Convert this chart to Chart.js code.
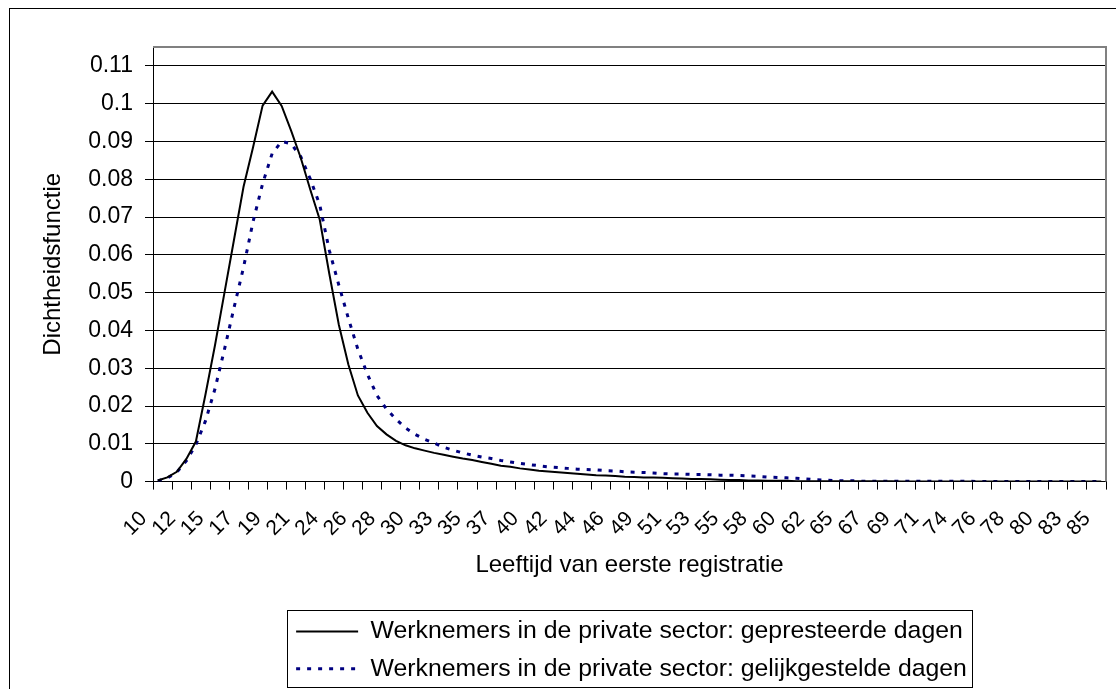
<!DOCTYPE html>
<html>
<head>
<meta charset="utf-8">
<title>Dichtheidsfunctie leeftijd eerste registratie</title>
<script src="https://cdn.jsdelivr.net/npm/chart.js@4.4.1/dist/chart.umd.min.js"></script>
<style>
  html, body { margin: 0; padding: 0; background: #fff; }
  canvas { display: block; }
</style>
</head>
<body>
<canvas id="densityChart" width="1116" height="689"></canvas>
<script>
// 100 leeftijdsklassen (10 tot 85), label bij elke derde klasse
const tickLabels = ['10','12','15','17','19','21','24','26','28','30','33','35','37','40','42','44','46','49',
    '51','53','55','58','60','62','65','67','69','71','74','76','78','80','83','85'];

const seriesNames = [
    'Werknemers in de private sector: gepresteerde dagen',
    'Werknemers in de private sector: gelijkgestelde dagen'
];

const gepresteerd = [
    0.0003, 0.0011, 0.0026, 0.0060, 0.0106, 0.0230, 0.0360, 0.0500, 0.0640, 0.0780,
    0.0885, 0.0995, 0.1032, 0.0994, 0.0928, 0.0857, 0.0773, 0.0693, 0.0550, 0.0415,
    0.0310, 0.0228, 0.0182, 0.0147, 0.0125, 0.0108, 0.0096, 0.0088, 0.0082, 0.0076,
    0.0071, 0.0066, 0.0061, 0.0057, 0.0052, 0.0047, 0.0042, 0.0039, 0.0035, 0.0032,
    0.0029, 0.0027, 0.0025, 0.0023, 0.0021, 0.0019, 0.0017, 0.0016, 0.0015, 0.0013,
    0.0012, 0.0011, 0.0011, 0.0010, 0.0009, 0.0008, 0.0007, 0.0007, 0.0006, 0.0005,
    0.0004, 0.0004, 0.0003, 0.0003, 0.0002, 0.0002, 0.0002, 0.0001, 0.0001, 0.0001,
    0.0001, 0.0001, 0.0001, 0.0001, 0.0001, 0.0001, 0.0001, 0.0001, 0, 0,
    0, 0, 0, 0, 0, 0, 0, 0, 0, 0,
    0, 0, 0, 0, 0, 0, 0, 0, 0, 0
];

const gelijkgesteld = [
    0.0002, 0.0009, 0.0025, 0.0055, 0.0098, 0.0160, 0.0245, 0.0350, 0.0460, 0.0567,
    0.0688, 0.0788, 0.0868, 0.0900, 0.0894, 0.0860, 0.0801, 0.0732, 0.0612, 0.0520,
    0.0432, 0.0350, 0.0284, 0.0228, 0.0192, 0.0165, 0.0142, 0.0125, 0.0112, 0.0102,
    0.0091, 0.0083, 0.0076, 0.0070, 0.0065, 0.0061, 0.0056, 0.0052, 0.0048, 0.0045,
    0.0042, 0.0039, 0.0037, 0.0035, 0.0033, 0.0032, 0.0031, 0.0029, 0.0028, 0.0026,
    0.0025, 0.0024, 0.0023, 0.0021, 0.0020, 0.0020, 0.0019, 0.0019, 0.0018, 0.0017,
    0.0017, 0.0016, 0.0015, 0.0014, 0.0012, 0.0011, 0.0010, 0.0009, 0.0007, 0.0005,
    0.0004, 0.0003, 0.0002, 0.0002, 0.0001, 0.0001, 0.0001, 0.0001, 0.0001, 0.0001,
    0.0001, 0.0001, 0.0001, 0.0001, 0.0001, 0.0001, 0, 0, 0, 0,
    0, 0, 0, 0, 0, 0, 0, 0, 0, 0
];

const yMin = 0, yMax = 0.115, yStep = 0.01;

// category list: only every third class carries a label
const categories = gepresteerd.map((v, i) => (i % 3 === 0 ? tickLabels[i / 3] : ''));

Chart.defaults.font.family = '"Liberation Sans", Arial, sans-serif';
Chart.defaults.color = '#000';

// white page + outer frame
const frame = {
    id: 'frame',
    beforeDraw(chart) {
        const ctx = chart.ctx;
        ctx.save();
        ctx.fillStyle = '#fff';
        ctx.fillRect(0, 0, chart.width, chart.height);
        ctx.strokeStyle = '#000';
        ctx.lineWidth = 1;
        ctx.strokeRect(9.5, 8.5, 1200, 800);
        ctx.restore();
    },
    beforeDatasetsDraw(chart) {
        // grey top and right edge of the plot area
        const {ctx, chartArea: a} = chart;
        ctx.save();
        ctx.strokeStyle = '#808080';
        ctx.lineWidth = 2;
        ctx.beginPath();
        ctx.moveTo(a.left, a.top);
        ctx.lineTo(a.right, a.top);
        ctx.lineTo(a.right, a.bottom);
        ctx.stroke();
        ctx.restore();
    }
};

// centre the legend under the plot area, one item per row, with a box around it
const legendBox = {
    id: 'legendBox',
    afterLayout(chart) {
        const lg = chart.legend;
        const a = chart.chartArea;
        const opts = lg.options.labels;
        const pad = opts.padding;
        const fs = opts.font.size;
        const ctx = chart.ctx;
        ctx.save();
        ctx.font = fs + 'px ' + Chart.defaults.font.family;
        const textMax = Math.max(...seriesNames.map(t => ctx.measureText(t).width));
        ctx.restore();
        const itemMax = opts.boxWidth + fs / 2 + textMax;
        const boxLeft = (a.left + a.right) / 2 - (itemMax + 14) / 2;
        lg.left = boxLeft + 9 - pad;
        lg.right = lg.left + lg.width;
        lg.top = a.bottom + 150 - pad - fs / 2;
        lg.bottom = lg.top + lg.height;
    },
    afterDraw(chart) {
        const boxes = chart.legend.legendHitBoxes;
        if (!boxes || !boxes.length) return;
        const l = Math.min(...boxes.map(b => b.left)) - 9;
        const r = Math.max(...boxes.map(b => b.left + b.width)) + 5;
        const t = boxes[0].top - 9;
        const last = boxes[boxes.length - 1];
        const btm = last.top + last.height + 6;
        const ctx = chart.ctx;
        ctx.save();
        ctx.strokeStyle = '#000';
        ctx.lineWidth = 1;
        ctx.strokeRect(Math.round(l) + 0.5, Math.round(t) + 0.5, Math.round(r - l), Math.round(btm - t));
        ctx.restore();
    }
};

new Chart(document.getElementById('densityChart'), {
    type: 'line',
    data: {
        labels: categories,
        datasets: [{
            label: seriesNames[0],
            data: gepresteerd,
            borderColor: '#000000',
            borderWidth: 2,
            pointRadius: 0,
            tension: 0,
            fill: false
        }, {
            label: seriesNames[1],
            data: gelijkgesteld,
            borderColor: '#000080',
            borderWidth: 3,
            borderDash: [4, 7],
            pointRadius: 0,
            tension: 0,
            fill: false
        }]
    },
    options: {
        responsive: false,
        animation: false,
        devicePixelRatio: 1,
        events: [],
        layout: { padding: { left: 20, top: 47, right: 10, bottom: 0 } },
        scales: {
            x: {
                type: 'category',
                offset: true,
                afterFit: s => {
                    s.height = 123;
                    // rotated labels hang to the left; no extra room needed on the sides
                    s.paddingLeft = 0;
                    s.paddingRight = 0;
                },
                grid: {
                    offset: true,
                    drawOnChartArea: false,
                    drawTicks: true,
                    tickLength: 8,
                    color: c => (c.index === undefined || c.index % 2 === 0 ? '#000' : 'rgba(0,0,0,0)')
                },
                border: { display: true, color: '#000', width: 1 },
                ticks: {
                    autoSkip: false,
                    minRotation: 45,
                    maxRotation: 45,
                    padding: 17,
                    labelOffset: -14,
                    font: { size: 21 }
                },
                title: {
                    display: true,
                    text: 'Leeftijd van eerste registratie',
                    font: { size: 24 },
                    padding: { top: 0, bottom: 24.6 }
                }
            },
            y: {
                min: yMin,
                max: yMax,
                afterFit: s => { s.width = 133; },
                grid: {
                    color: '#000',
                    lineWidth: 1,
                    drawTicks: true,
                    tickLength: 8
                },
                border: { display: true, color: '#000', width: 1 },
                ticks: {
                    stepSize: yStep,
                    includeBounds: false,
                    padding: 12,
                    font: { size: 23 },
                    callback: v => String(+v.toFixed(2))
                },
                title: {
                    display: true,
                    text: 'Dichtheidsfunctie',
                    font: { size: 24 },
                    padding: { top: 19, bottom: 0 }
                }
            }
        },
        plugins: {
            legend: {
                display: true,
                position: 'bottom',
                align: 'start',
                labels: {
                    usePointStyle: true,
                    pointStyle: 'line',
                    pointStyleWidth: 62,
                    boxWidth: 62,
                    padding: 12.4,
                    font: { size: 24.8 },
                    color: '#000',
                    // keep the dash pattern of each series in its legend sample
                    generateLabels: chart => {
                        const items = Chart.defaults.plugins.legend.labels.generateLabels(chart);
                        items.forEach(it => {
                            const ds = chart.data.datasets[it.datasetIndex];
                            it.lineDash = ds.borderDash || [];
                            it.lineWidth = ds.borderWidth;
                            it.strokeStyle = ds.borderColor;
                        });
                        return items;
                    }
                }
            },
            tooltip: { enabled: false },
            title: { display: false }
        }
    },
    plugins: [frame, legendBox]
});
</script>
</body>
</html>
